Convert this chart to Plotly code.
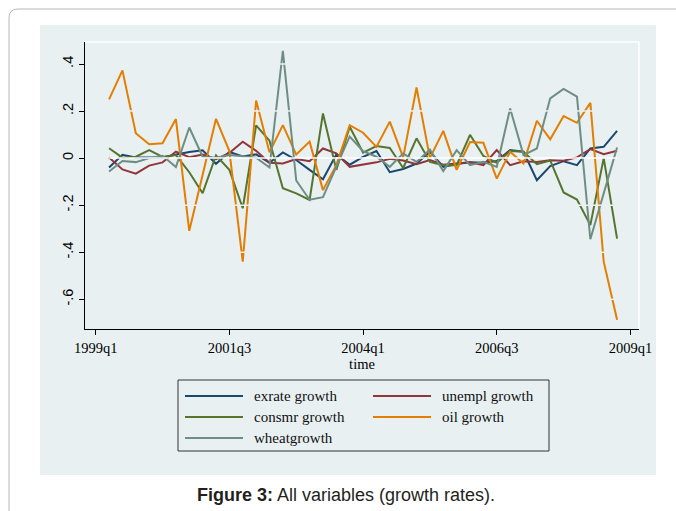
import plotly.graph_objects as go

# Quarterly growth rates, 1999q2 .. 2008q4 (quarter index 0 = 1999q1)
quarter_index = list(range(1, 40))

exrate_growth = [-0.040, 0.014, 0.003, 0.003, 0.003, 0.015, 0.026, 0.033, -0.024, 0.026,
                 0.007, 0.016, -0.020, 0.024, -0.008, -0.050, -0.090, 0.015, -0.028, 0.005,
                 0.030, -0.060, -0.046, -0.023, 0.027, -0.037, -0.025, -0.018, -0.020, -0.012,
                 0.034, 0.027, -0.094, -0.034, -0.013, -0.030, 0.041, 0.048, 0.116]

unempl_growth = [0.003, -0.048, -0.066, -0.032, -0.018, 0.028, 0.004, 0.015, -0.005, 0.022,
                 0.070, 0.031, -0.020, -0.023, -0.004, -0.013, 0.041, 0.020, -0.037, -0.027,
                 -0.018, -0.003, -0.010, -0.026, -0.008, -0.028, -0.022, -0.018, -0.030, 0.034,
                 -0.030, -0.013, -0.016, -0.009, -0.011, 0.003, 0.038, 0.017, 0.031]

consmr_growth = [0.042, 0.002, 0.006, 0.034, 0.005, 0.013, -0.060, -0.149, 0.012, -0.050,
                 -0.213, 0.139, 0.074, -0.128, -0.150, -0.178, 0.190, -0.050, 0.133, 0.023,
                 0.051, 0.043, -0.042, 0.084, -0.016, -0.030, -0.030, 0.099, 0.009, -0.020,
                 0.030, 0.027, -0.026, -0.010, -0.146, -0.176, -0.285, 0.000, -0.342]

oil_growth = [0.250, 0.373, 0.106, 0.059, 0.063, 0.166, -0.309, -0.070, 0.167, 0.030,
              -0.440, 0.245, 0.025, 0.140, 0.015, 0.070, -0.136, -0.030, 0.140, 0.108,
              0.048, 0.155, 0.003, 0.300, 0.000, 0.116, -0.050, 0.068, 0.065, -0.087,
              0.027, -0.023, 0.159, 0.080, 0.179, 0.150, 0.235, -0.440, -0.687]

wheat_growth = [-0.057, -0.012, -0.017, 0.000, 0.010, -0.038, 0.130, 0.006, 0.002, 0.013,
                0.008, 0.002, -0.040, 0.456, -0.095, -0.177, -0.166, -0.040, 0.092, 0.030,
                0.006, -0.037, 0.020, -0.016, 0.036, -0.055, 0.034, -0.030, -0.016, -0.037,
                0.211, 0.013, 0.041, 0.254, 0.294, 0.261, -0.345, -0.150, 0.045]

series_names = ["exrate growth", "unempl growth", "consmr growth", "oil growth", "wheatgrowth"]
series_colors = ["#1A476F", "#90353B", "#55752F", "#E37E00", "#6E8E84"]

x_tick_vals = [0, 10, 20, 30, 40]
x_tick_text = ["1999q1", "2001q3", "2004q1", "2006q3", "2009q1"]
y_tick_vals = [-0.6, -0.4, -0.2, 0.0, 0.2, 0.4]
y_tick_text = ["-.6", "-.4", "-.2", "0", ".2", ".4"]

BG = "#E9F0F2"
SERIF = "Liberation Serif, Times New Roman, serif"
SANS = "Liberation Sans, Arial, sans-serif"

W, H = 676, 511
ML, MR, MT, MB = 85, 37, 42, 182
PW, PH = W - ML - MR, H - MT - MB


def xp(px):
    return (px - ML) / PW


def yp(py):
    return (H - MB - py) / PH


fig = go.Figure()
all_series = [exrate_growth, unempl_growth, consmr_growth, oil_growth, wheat_growth]
for name, vals, col in zip(series_names, all_series, series_colors):
    fig.add_trace(go.Scatter(x=quarter_index, y=vals, mode="lines", name=name,
                             line=dict(color=col, width=2), showlegend=False))

shapes = []
# graph region and outer page frame
shapes.append(dict(type="rect", xref="paper", yref="paper", layer="below",
                   x0=xp(40), x1=xp(656), y0=yp(475), y1=yp(25),
                   fillcolor=BG, line=dict(width=0)))
frame = (f"M {xp(9)},{yp(520)} L {xp(9)},{yp(18)} Q {xp(9)},{yp(9)} {xp(18)},{yp(9)} "
         f"L {xp(690)},{yp(9)}")
shapes.append(dict(type="path", xref="paper", yref="paper", layer="below", path=frame,
                   line=dict(color="#B8B8B8", width=1)))
# white plot-region border on top and right
shapes.append(dict(type="line", xref="paper", yref="paper", x0=0, x1=1, y0=1, y1=1,
                   line=dict(color="white", width=1.5)))
shapes.append(dict(type="line", xref="paper", yref="paper", x0=1, x1=1, y0=0, y1=1,
                   line=dict(color="white", width=1.5)))
# horizontal grid lines at the y ticks across the data span
for yv in y_tick_vals:
    shapes.append(dict(type="line", xref="x", yref="y", layer="above",
                       x0=quarter_index[0], x1=quarter_index[-1], y0=yv, y1=yv,
                       line=dict(color="white" if yv == 0 else BG, width=1.5)))

# legend box
shapes.append(dict(type="rect", xref="paper", yref="paper",
                   x0=xp(178), x1=xp(549), y0=yp(451), y1=yp(380),
                   fillcolor=BG, line=dict(color="#333333", width=1)))
legend_pos = [(185, 396), (373, 396), (185, 417), (373, 417), (185, 438)]
annotations = []
for (lx, ly), name, col in zip(legend_pos, series_names, series_colors):
    shapes.append(dict(type="line", xref="paper", yref="paper",
                       x0=xp(lx), x1=xp(lx + 58), y0=yp(ly), y1=yp(ly),
                       line=dict(color=col, width=2)))
    annotations.append(dict(xref="paper", yref="paper", x=xp(lx + 67), y=yp(ly),
                            xanchor="left", yanchor="middle", showarrow=False,
                            text=name, font=dict(family=SERIF, size=15, color="#111111")))

annotations.append(dict(xref="paper", yref="paper", x=xp(346), y=yp(495),
                        xanchor="center", yanchor="middle", showarrow=False,
                        text="<b>Figure 3:</b> All variables (growth rates).",
                        font=dict(family=SANS, size=18, color="#231F20")))

fig.update_layout(
    width=W, height=H,
    margin=dict(l=ML, r=MR, t=MT, b=MB, pad=0),
    paper_bgcolor="white", plot_bgcolor=BG,
    shapes=shapes, annotations=annotations,
    showlegend=False,
    xaxis=dict(range=[-0.80, 40.64], tickmode="array", tickvals=x_tick_vals,
               ticktext=x_tick_text, ticks="outside", ticklen=5, tickwidth=1,
               tickcolor="black", showline=True, linecolor="black", linewidth=1.3,
               showgrid=False, zeroline=False,
               tickfont=dict(family=SERIF, size=14.5, color="black"),
               title=dict(text="time", standoff=0,
                          font=dict(family=SERIF, size=14.5, color="black"))),
    yaxis=dict(range=[-0.7264, 0.4936], tickmode="array", tickvals=y_tick_vals,
               ticktext=y_tick_text, tickangle=-90, ticks="outside", ticklen=5,
               tickwidth=1, tickcolor="black", showline=True, linecolor="black",
               linewidth=1.3, showgrid=False, zeroline=False,
               tickfont=dict(family=SANS, size=14.5, color="black")),
)

fig.write_html("out.html")
